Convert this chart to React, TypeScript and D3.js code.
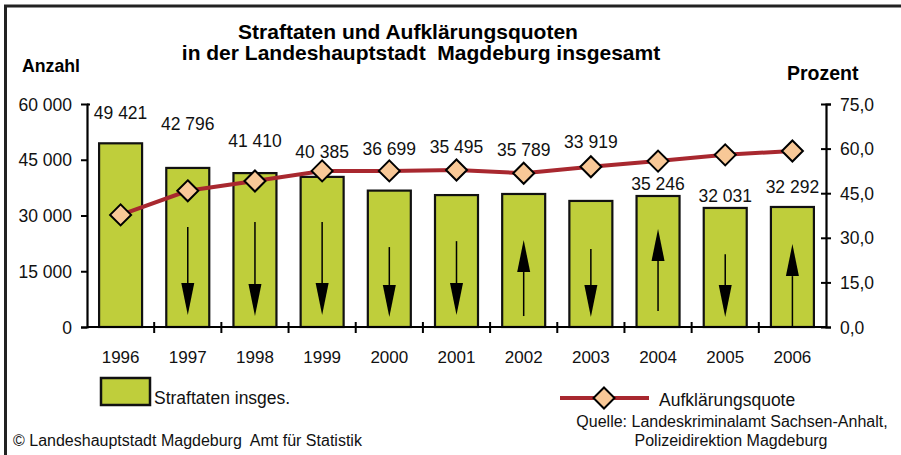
import React, { useEffect, useRef } from 'react';
import * as d3 from 'd3';

const years = ['1996', '1997', '1998', '1999', '2000', '2001', '2002', '2003', '2004', '2005', '2006'];
const straftaten = [49421, 42796, 41410, 40385, 36699, 35495, 35789, 33919, 35246, 32031, 32292];
const quote = [37.7, 45.8, 49.1, 52.5, 52.5, 52.8, 51.7, 53.9, 55.8, 57.9, 59.2];
const leftTicks = [0, 15000, 30000, 45000, 60000];
const rightTicks = [0, 15, 30, 45, 60, 75];
// arrow from -> to, in Anzahl units (null = no arrow)
const arrowSpans: ([number, number] | null)[] = [
    null,
    [26900, 3200],
    [28250, 2950],
    [28250, 3200],
    [21500, 2700],
    [23100, 3200],
    [2950, 23400],
    [21000, 2700],
    [4300, 26400],
    [19600, 2700],
    [0, 22300],
];

// how far the value label baseline sits above the bar top (px)
const labelLift = [24, 38, 26, 19, 36, 42, 38, 53, 6, 6, 14];

const W = 901;
const H = 455;
const FONT = 'Liberation Sans, Arial, sans-serif';
const GREEN = '#BFCE3B';
const RED = '#A8282F';
const PEACH = '#F8C897';

const App = () => {
    const svgRef = useRef<SVGSVGElement>(null);

    useEffect(() => {
        const svg = d3.select(svgRef.current);
        svg.selectAll('*').remove();

        const left = 87;
        const right = 826;
        const base = 327;
        const top = 104;

        const x = d3.scaleBand().domain(years).range([left, right]);
        const yL = d3.scaleLinear().domain([0, 60000]).range([base, top]);
        const yR = d3.scaleLinear().domain([0, 75]).range([base, top]);
        const cx = (y: string) => (x(y) as number) + x.bandwidth() / 2;

        const de = d3.formatLocale({ decimal: ',', thousands: ' ', grouping: [3], currency: ['', ''] });
        const fmtN = de.format(',d');
        const fmtP = de.format(',.1f');

        // frame
        svg.append('path')
            .attr('d', `M5.5,${H} L5.5,6 L${W},6`)
            .attr('fill', 'none')
            .attr('stroke', '#222')
            .attr('stroke-width', 3);

        // title
        const title = svg.append('text')
            .attr('font-family', FONT)
            .attr('font-weight', 'bold')
            .attr('font-size', 21)
            .attr('text-anchor', 'middle');
        title.append('tspan').attr('x', 408).attr('y', 39).text('Straftaten und Aufklärungsquoten');
        title.append('tspan').attr('x', 421).attr('y', 60)
            .text('in der Landeshauptstadt\u00a0 Magdeburg insgesamt');

        svg.append('text').attr('x', 22).attr('y', 72)
            .attr('font-family', FONT).attr('font-weight', 'bold').attr('font-size', 17.7)
            .text('Anzahl');
        svg.append('text').attr('x', 787).attr('y', 80)
            .attr('font-family', FONT).attr('font-weight', 'bold').attr('font-size', 19.5)
            .text('Prozent');

        // bars
        const bw = x.bandwidth() * 0.64;
        svg.append('g').selectAll('rect')
            .data(straftaten)
            .join('rect')
            .attr('x', (d, i) => cx(years[i]) - bw / 2)
            .attr('y', (d) => yL(d))
            .attr('width', bw)
            .attr('height', (d) => base - yL(d))
            .attr('fill', GREEN)
            .attr('stroke', '#111')
            .attr('stroke-width', 2.2);

        // arrows
        const ag = svg.append('g');
        arrowSpans.forEach((s, i) => {
            if (!s) return;
            const ax = cx(years[i]);
            const y0 = yL(s[0]);
            const y1 = yL(s[1]);
            const dir = y1 > y0 ? 1 : -1;
            const headLen = 32;
            const headW = 6.5;
            ag.append('line')
                .attr('x1', ax).attr('x2', ax)
                .attr('y1', y0).attr('y2', y1 - dir * headLen)
                .attr('stroke', '#000').attr('stroke-width', 1.5);
            ag.append('path')
                .attr('d', `M${ax - headW},${y1 - dir * headLen} L${ax + headW},${y1 - dir * headLen} L${ax},${y1} Z`)
                .attr('fill', '#000');
        });

        // axes
        const axL = svg.append('g').attr('transform', `translate(${left},0)`)
            .call(d3.axisLeft(yL).tickValues(leftTicks).tickFormat((d) => fmtN(d as number)).tickSizeOuter(0).tickSize(6).tickPadding(9));
        const axR = svg.append('g').attr('transform', `translate(${right},0)`)
            .call(d3.axisRight(yR).tickValues(rightTicks).tickFormat((d) => fmtP(d as number)).tickSizeOuter(0).tickSize(5).tickPadding(9));
        [axL, axR].forEach((a) => {
            a.select('.domain').attr('stroke', '#000').attr('stroke-width', 2.2);
            a.selectAll('.tick line').attr('stroke', '#000').attr('stroke-width', 2);
            a.selectAll('.tick text').attr('font-family', FONT).attr('font-size', 17.5).attr('fill', '#111').attr('dy', '0.35em');
        });
        axR.selectAll('.tick line').attr('x1', -5);
        axL.selectAll('.tick line').filter((d) => d === 60000).attr('x2', 3);

        // x axis baseline + category separators
        const xg = svg.append('g');
        xg.append('line').attr('x1', left).attr('x2', right).attr('y1', base).attr('y2', base)
            .attr('stroke', '#000').attr('stroke-width', 2.2);
        xg.selectAll('.sep')
            .data(years.slice(1))
            .join('line')
            .attr('x1', (d) => x(d) as number).attr('x2', (d) => x(d) as number)
            .attr('y1', base - 5).attr('y2', base + 6)
            .attr('stroke', '#000').attr('stroke-width', 2);
        xg.selectAll('.yr')
            .data(years)
            .join('text')
            .attr('x', (d) => cx(d))
            .attr('y', 363)
            .attr('text-anchor', 'middle')
            .attr('font-family', FONT)
            .attr('font-size', 17)
            .attr('fill', '#111')
            .text((d) => d);

        // value labels
        svg.append('g').selectAll('text')
            .data(straftaten)
            .join('text')
            .attr('x', (d, i) => cx(years[i]))
            .attr('y', (d, i) => yL(d) - labelLift[i])
            .attr('text-anchor', 'middle')
            .attr('font-family', FONT)
            .attr('font-size', 17.5)
            .attr('fill', '#111')
            .text((d) => fmtN(d));

        // quote line
        const line = d3.line<number>()
            .x((d, i) => cx(years[i]))
            .y((d) => yR(d));
        svg.append('path')
            .datum(quote)
            .attr('d', line)
            .attr('fill', 'none')
            .attr('stroke', RED)
            .attr('stroke-width', 4);

        const diamond = (g: any, px: number, py: number) => {
            const r = 10.5;
            g.append('path')
                .attr('d', `M${px},${py - r} L${px + r},${py} L${px},${py + r} L${px - r},${py} Z`)
                .attr('fill', PEACH)
                .attr('stroke', '#000')
                .attr('stroke-width', 2);
        };
        const dg = svg.append('g');
        quote.forEach((q, i) => diamond(dg, cx(years[i]), yR(q)));

        // legend
        svg.append('rect').attr('x', 101).attr('y', 378).attr('width', 49).attr('height', 27)
            .attr('fill', GREEN).attr('stroke', '#111').attr('stroke-width', 2.5);
        svg.append('text').attr('x', 154).attr('y', 404)
            .attr('font-family', FONT).attr('font-size', 17.5).attr('fill', '#111')
            .text('Straftaten insges.');

        svg.append('line').attr('x1', 560).attr('x2', 649).attr('y1', 398).attr('y2', 398)
            .attr('stroke', RED).attr('stroke-width', 4);
        diamond(svg, 604, 398);
        svg.append('text').attr('x', 659).attr('y', 406)
            .attr('font-family', FONT).attr('font-size', 17.5).attr('fill', '#111')
            .text('Aufklärungsquote');

        // sources
        svg.append('text').attr('x', 732).attr('y', 427).attr('text-anchor', 'middle')
            .attr('font-family', FONT).attr('font-size', 16).attr('fill', '#111')
            .text('Quelle: Landeskriminalamt Sachsen-Anhalt,');
        svg.append('text').attr('x', 731).attr('y', 446).attr('text-anchor', 'middle')
            .attr('font-family', FONT).attr('font-size', 16).attr('fill', '#111')
            .text('Polizeidirektion Magdeburg');
        svg.append('text').attr('x', 13).attr('y', 446)
            .attr('font-family', FONT).attr('font-size', 16).attr('fill', '#111')
            .text('© Landeshauptstadt Magdeburg\u00a0 Amt für Statistik');
    }, []);

    return (
        <React.Fragment>
            <style>{'body{margin:0}'}</style>
            <svg ref={svgRef} width={W} height={H} style={{ display: 'block', background: '#fff' }} />
        </React.Fragment>
    );
};

export default App;
